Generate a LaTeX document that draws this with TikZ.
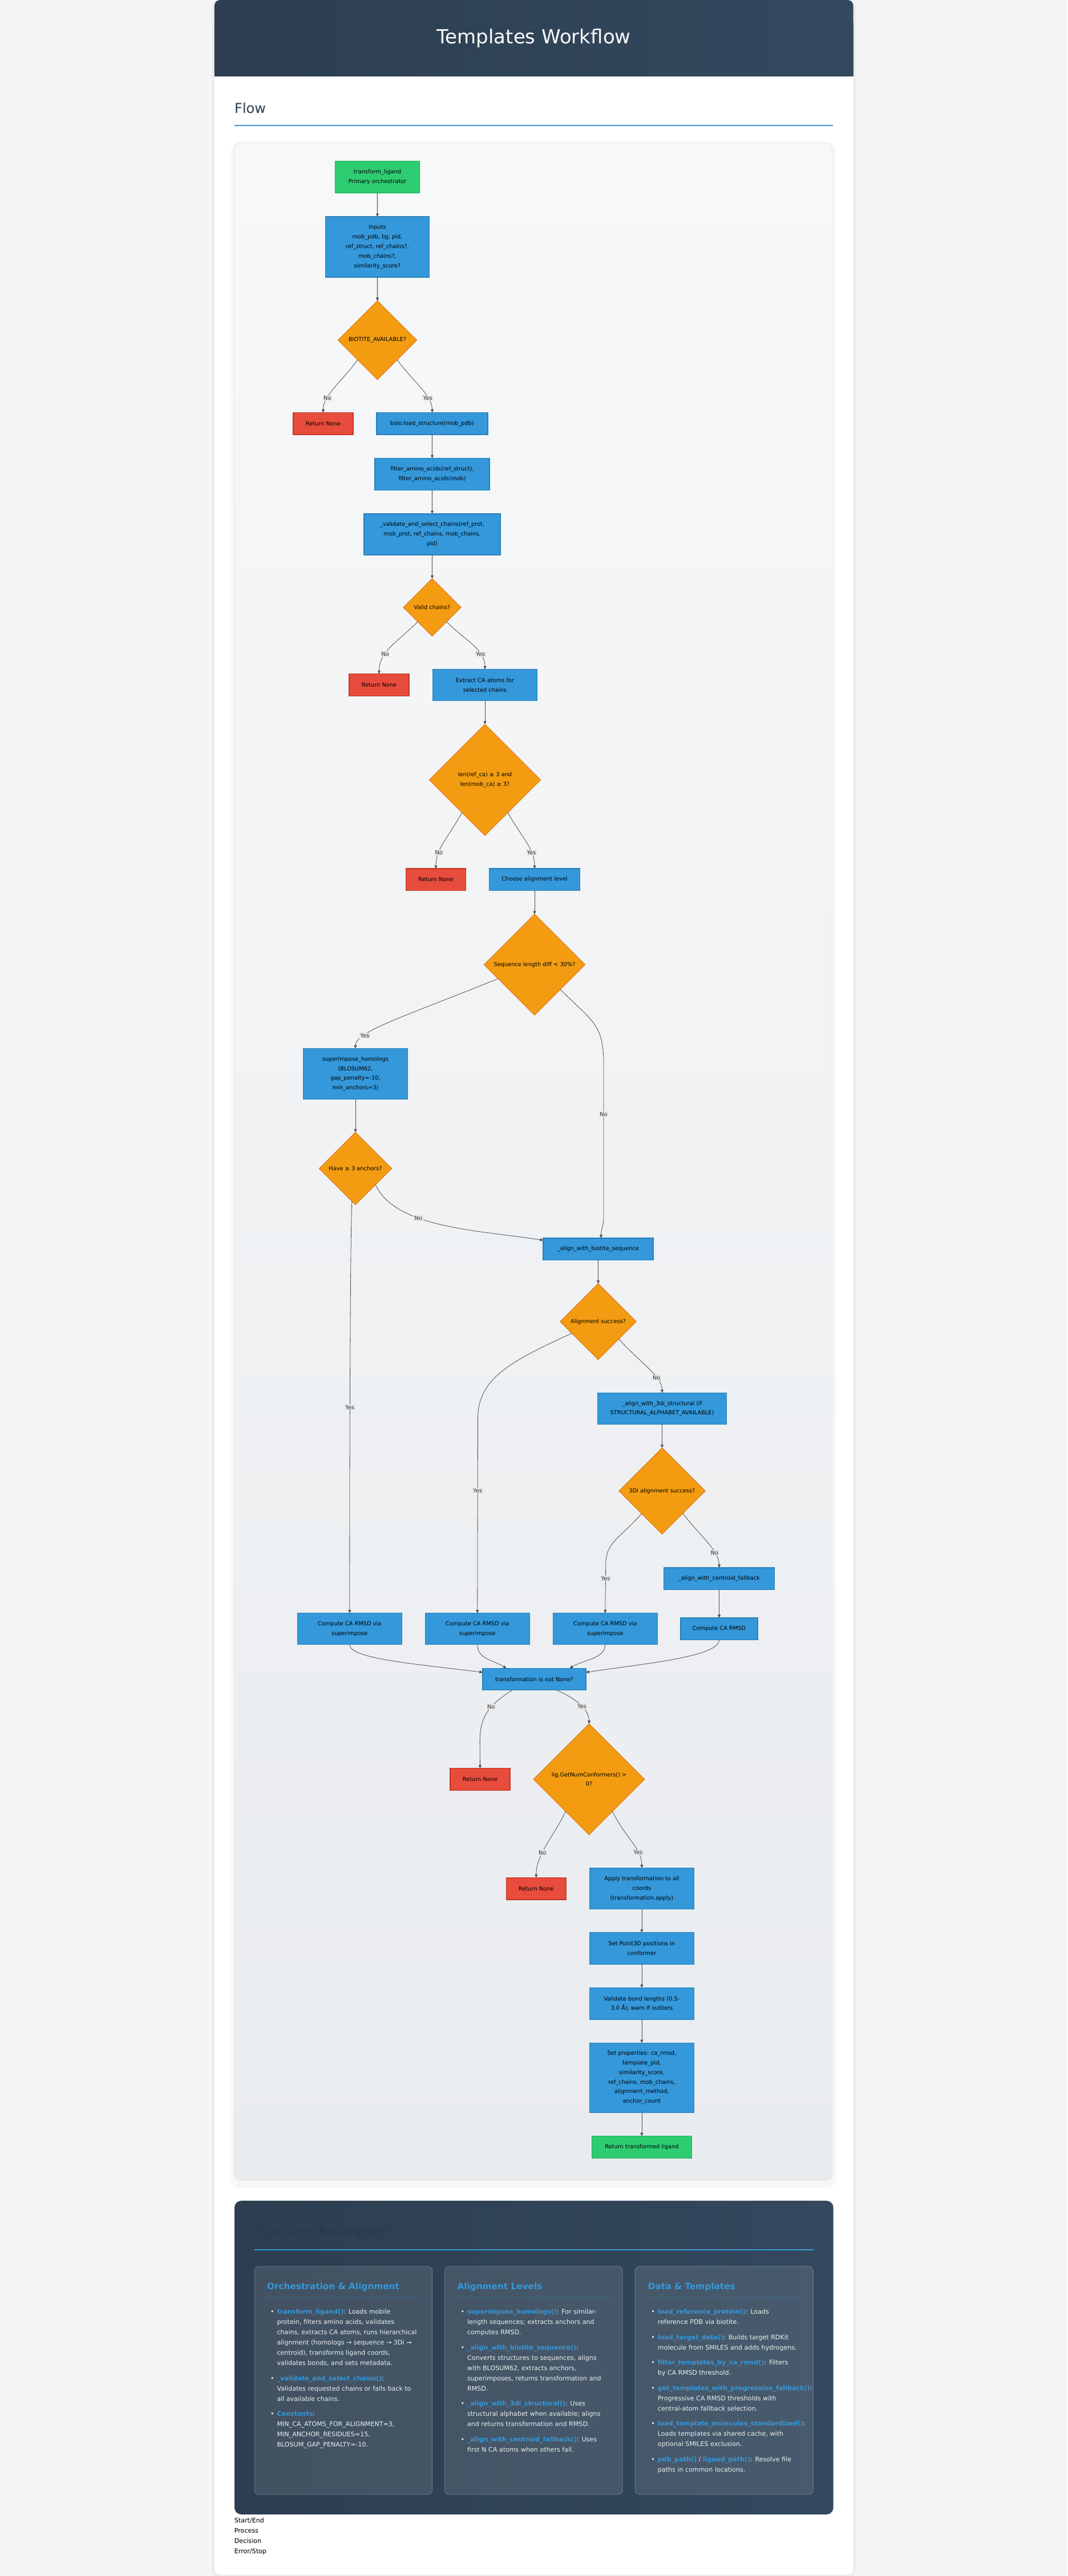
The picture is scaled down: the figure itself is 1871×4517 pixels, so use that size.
\documentclass[tikz,border=0pt]{standalone}
\usepackage{fontspec}
\setmainfont{DejaVu Sans}
\usepackage{tikz}
\usetikzlibrary{shapes.geometric,arrows.meta,positioning}
\tikzset{>/.tip={Triangle[length=5.5pt,width=5pt]}}
\definecolor{pagebg}{HTML}{F3F4F5}
\definecolor{hdrA}{HTML}{2C3E50}
\definecolor{hdrB}{HTML}{34495E}
\definecolor{accent}{HTML}{3498DB}
\definecolor{panelA}{HTML}{F7F8F9}
\definecolor{panelB}{HTML}{E9ECEF}
\definecolor{panelline}{HTML}{DFE3E8}
\definecolor{termfill}{HTML}{2ECC71}
\definecolor{termline}{HTML}{27AE60}
\definecolor{procfill}{HTML}{3498DB}
\definecolor{procline}{HTML}{2980B9}
\definecolor{decfill}{HTML}{F39C12}
\definecolor{decline}{HTML}{E67E22}
\definecolor{errfill}{HTML}{E74C3C}
\definecolor{errline}{HTML}{C0392B}
\definecolor{edgecol}{HTML}{4D4D4D}
\definecolor{lblfill}{HTML}{E8E8E8}
\definecolor{lbltext}{HTML}{333333}
\definecolor{cardtext}{HTML}{ECF0F1}
\definecolor{fadehead}{HTML}{29394A}
\newcommand{\nodefont}{\fontsize{9.8}{16.8}\selectfont}
\newcommand{\cardfont}{\fontsize{11.1}{18}\selectfont}
\newcommand{\headfont}{\fontsize{24}{28}\selectfont}
\newcommand{\cardheadfont}{\fontsize{15.3}{18}\selectfont\bfseries}
\newcommand{\fname}[1]{\textbf{\textcolor{accent}{#1}}}
\tikzset{
  txt/.style={inner sep=0pt},
  flowbox/.style={rectangle, align=center, font=\nodefont, text=black, inner sep=2pt, outer sep=0pt, line width=1.3pt},
  startend/.style={flowbox, fill=termfill, draw=termline},
  proc/.style={flowbox, fill=procfill, draw=procline},
  errbox/.style={flowbox, fill=errfill, draw=errline, minimum width=105pt, minimum height=38.5pt},
  decide/.style={flowbox, diamond, fill=decfill, draw=decline, inner sep=0pt},
  lbl/.style={font=\nodefont, text=lbltext, fill=lblfill, inner xsep=1.5pt, inner ysep=1.5pt},
  flow/.style={->, draw=edgecol, line width=0.8pt},
  cardbox/.style={fill=white, fill opacity=0.1, draw=white, draw opacity=0.22, line width=1pt, rounded corners=8pt},
  cardhead/.style={txt, anchor=base west, font=\cardheadfont, text=accent},
  cardlist/.style={txt, anchor=north west, font=\cardfont, text=cardtext},
}
\begin{document}
\begin{tikzpicture}[x=1pt,y=-1pt,node distance=41.5pt]
  \useasboundingbox (0,0) rectangle (1871,4517);
  % page and card
  \fill[pagebg] (0,0) rectangle (1871,4517);
  \fill[black, opacity=0.04, rounded corners=12pt] (372,0) rectangle (1499.5,4517);
  \fill[white, rounded corners=10pt] (375.8,0) rectangle (1495.7,4515);
  \path[left color=hdrA, right color=hdrB, rounded corners=10pt] (375.8,0) rectangle (1495.7,134);
  \path[left color=hdrA, right color=hdrB] (375.8,40) rectangle (1495.7,134);
  \node (title) [txt, anchor=base, font=\fontsize{34}{40}\selectfont, text=white] at (935.7,76.2) {Templates Workflow};
  \node (flowhead) [txt, anchor=base west, font=\headfont, text=hdrA] at (411,198.8) {Flow};
  \draw[accent, line width=2pt] (411,220) -- (1460,220);
  % flow panel
  \fill[black, opacity=0.03, rounded corners=14pt] (405,252) rectangle (1465,3836);
  \path[draw=panelline, line width=0.8pt, top color=panelA, bottom color=panelB, rounded corners=10pt] (411,250) rectangle (1459,3823);

  % nodes
  \node (start) [startend, minimum width=148pt, minimum height=56pt] at (661.5,310.5) {transform\_ligand\\Primary orchestrator};
  \node (inputs) [proc, below=of start, minimum width=182pt, minimum height=106pt] {Inputs\\mob\_pdb, lig, pid,\\ref\_struct, ref\_chains?,\\mob\_chains?,\\similarity\_score?};
  \node (biotite) [decide, below=of inputs, minimum size=138pt] {BIOTITE\_AVAILABLE?};
  \node (ret1) [errbox, below=58pt of biotite, xshift=-95pt] {Return None};
  \node (bsio) [proc, below=58pt of biotite, xshift=96pt, minimum width=195pt, minimum height=38.5pt] {bsio.load\_structure(mob\_pdb)};
  \node (filter) [proc, below=of bsio, minimum width=201pt, minimum height=56pt] {filter\_amino\_acids(ref\_struct),\\filter\_amino\_acids(mob)};
  \node (validate) [proc, below=of filter, minimum width=239pt, minimum height=72pt] {\_validate\_and\_select\_chains(ref\_prot,\\mob\_prot, ref\_chains, mob\_chains,\\pid)};
  \node (valid) [decide, below=of validate, minimum size=101pt] {Valid chains?};
  \node (extract) [proc, below=58pt of valid, xshift=92.5pt, minimum width=183pt, minimum height=55pt] {Extract CA atoms for\\selected chains};
  \node (ret2) [errbox, left=41.5pt of extract] {Return None};
  \node (lenca) [decide, below=of extract, minimum size=195pt] {len(ref\_ca) ≥ 3 and\\len(mob\_ca) ≥ 3?};
  \node (choose) [proc, below=58pt of lenca, xshift=87pt, minimum width=159pt, minimum height=38.5pt] {Choose alignment level};
  \node (ret3) [errbox, left=41pt of choose] {Return None};
  \node (seqlen) [decide, below=of choose, minimum size=177pt] {Sequence length diff < 30\%?};
  \node (homologs) [proc, below=58.5pt of seqlen, xshift=-314pt, minimum width=182.5pt, minimum height=89pt] {superimpose\_homologs\\(BLOSUM62,\\gap\_penalty=-10,\\min\_anchors=3)};
  \node (anchors) [decide, below=58pt of homologs, minimum size=127pt] {Have ≥ 3 anchors?};
  \node (bioseq) [proc, below=58.4pt of anchors, xshift=425.5pt, minimum width=193pt, minimum height=38.5pt] {\_align\_with\_biotite\_sequence};
  \node (alignok) [decide, below=of bioseq, minimum size=133pt] {Alignment success?};
  \node (tridi) [proc, below=58.5pt of alignok, xshift=112pt, minimum width=225.6pt, minimum height=55pt] {\_align\_with\_3di\_structural (if\\STRUCTURAL\_ALPHABET\_AVAILABLE)};
  \node (tridiok) [decide, below=of tridi, minimum size=151pt] {3Di alignment success?};
  \node (centroid) [proc, below=59pt of tridiok, xshift=100pt, minimum width=194.6pt, minimum height=38.5pt] {\_align\_with\_centroid\_fallback};
  \node (rmsd4) [proc, below=49.5pt of centroid, minimum width=135pt, minimum height=38.5pt] {Compute CA RMSD};
  \node (rmsd3) [proc, left=40.7pt of rmsd4, minimum width=183pt, minimum height=55pt] {Compute CA RMSD via\\superimpose};
  \node (rmsd2) [proc, left=41pt of rmsd3, minimum width=183pt, minimum height=55pt] {Compute CA RMSD via\\superimpose};
  \node (rmsd1) [proc, left=41pt of rmsd2, minimum width=183pt, minimum height=55pt] {Compute CA RMSD via\\superimpose};
  \node (transok) [proc, below=41.5pt of rmsd2, xshift=99.7pt, minimum width=181pt, minimum height=38.5pt] {transformation is not None?};
  \node (confok) [decide, below=59pt of transok, xshift=96pt, minimum size=194.5pt] {lig.GetNumConformers() >\\0?};
  \node (ret4) [errbox, left=41.3pt of confok] {Return None};
  \node (apply) [proc, below=58.3pt of confok, xshift=92.4pt, minimum width=182.6pt, minimum height=72.3pt] {Apply transformation to all\\coords\\(transformation.apply)};
  \node (ret5) [errbox, left=41.3pt of apply] {Return None};
  \node (setpos) [proc, below=41pt of apply, minimum width=183pt, minimum height=55.7pt] {Set Point3D positions in\\conformer};
  \node (bonds) [proc, below=41pt of setpos, minimum width=183pt, minimum height=55.7pt] {Validate bond lengths (0.5-\\3.0 Å), warn if outliers};
  \node (props) [proc, below=41pt of bonds, minimum width=183pt, minimum height=122pt] {Set properties: ca\_rmsd,\\template\_pid,\\similarity\_score,\\ref\_chains, mob\_chains,\\alignment\_method,\\anchor\_count};
  \node (finish) [startend, below=41.3pt of props, minimum width=175pt, minimum height=39pt] {Return transformed ligand};

  % connectors
  \draw[flow] (start) -- (inputs);
  \draw[flow] (inputs) -- (biotite);
  \draw[flow] (biotite.south west) .. controls +(-30,40) and +(0,-30) .. node[lbl,pos=0.7]{No} (ret1.north);
  \draw[flow] (biotite.south east) .. controls +(30,40) and +(0,-30) .. node[lbl,pos=0.7]{Yes} (bsio.north);
  \draw[flow] (bsio) -- (filter);
  \draw[flow] (filter) -- (validate);
  \draw[flow] (validate) -- (valid);
  \draw[flow] (valid.south west) .. controls +(-35,35) and +(0,-40) .. node[lbl,pos=0.65]{No} (ret2.north);
  \draw[flow] (valid.south east) .. controls +(35,35) and +(0,-35) .. node[lbl,pos=0.7]{Yes} (extract.north);
  \draw[flow] (extract) -- (lenca);
  \draw[flow] (lenca.235) .. controls +(-25,45) and +(0,-35) .. node[lbl,pos=0.7]{No} (ret3.north);
  \draw[flow] (lenca.305) .. controls +(25,45) and +(0,-35) .. node[lbl,pos=0.7]{Yes} (choose.north);
  \draw[flow] (choose) -- (seqlen);
  \draw[flow] (seqlen.201) .. controls +(-160,65) and +(0,-30) .. node[lbl,pos=0.75]{Yes} (homologs.north);
  \draw[flow] (seqlen.316) .. controls +(55,55) and +(0,-70) .. ++(76,130) -- node[lbl,pos=0.33]{No} ++(0,270) .. controls +(0,15) and +(0,-15) .. ([xshift=5pt]bioseq.north);
  \draw[flow] (homologs) -- (anchors);
  \draw[flow] (anchors.321) .. controls +(35,75) and +(-120,-18) .. node[lbl,pos=0.37]{No} ([yshift=15.5pt]bioseq.west);
  \draw[flow] (anchors.264) .. controls +(-4,60) and +(0,-60) .. node[lbl,pos=0.5]{Yes} (rmsd1.north);
  \draw[flow] (bioseq) -- (alignok);
  \draw[flow] (alignok.204) .. controls +(-110,50) and +(0,-70) .. ++(-165,150) -- node[lbl,pos=0.37]{Yes} (rmsd2.north);
  \draw[flow] (alignok.320) .. controls +(35,40) and +(0,-30) .. node[lbl,pos=0.7]{No} (tridi.north);
  \draw[flow] (tridi) -- (tridiok);
  \draw[flow] (tridiok.228) .. controls +(-40,45) and +(0,-40) .. ++(-63,90) -- node[lbl,pos=0.28]{Yes} (rmsd3.north);
  \draw[flow] (tridiok.313) .. controls +(30,40) and +(0,-30) .. node[lbl,pos=0.7]{No} (centroid.north);
  \draw[flow] (centroid) -- (rmsd4);
  \draw[flow] (rmsd1.south) .. controls +(0,25) and +(-120,-15) .. ([yshift=12pt]transok.west);
  \draw[flow] (rmsd2.south) .. controls +(0,25) and +(-25,-15) .. ([xshift=-49pt]transok.north);
  \draw[flow] (rmsd3.south) .. controls +(0,25) and +(25,-15) .. ([xshift=62pt]transok.north);
  \draw[flow] (rmsd4.south) .. controls +(0,30) and +(100,-15) .. ([yshift=12pt]transok.east);
  \draw[flow] ([xshift=-38.4pt]transok.south) .. controls +(-40,25) and +(0,-45) .. node[lbl,pos=0.4]{No} ++(-57,90) -- (ret4.north);
  \draw[flow] ([xshift=39pt]transok.south) .. controls +(35,15) and +(0,-25) .. node[lbl,pos=0.55]{Yes} (confok.north);
  \draw[flow] (confok.234) .. controls +(-25,50) and +(0,-40) .. node[lbl,pos=0.6]{No} (ret5.north);
  \draw[flow] (confok.306) .. controls +(25,50) and +(0,-35) .. node[lbl,pos=0.7]{Yes} (apply.north);
  \draw[flow] (apply) -- (setpos);
  \draw[flow] (setpos) -- (bonds);
  \draw[flow] (bonds) -- (props);
  \draw[flow] (props) -- (finish);

  % function reference
  \path[left color=hdrA, right color=hdrB, rounded corners=12pt] (411,3859) rectangle (1460.7,4409);
  \node (refhead) [txt, anchor=base west, font=\headfont, text=fadehead] at (449,3921.8) {Function Reference};
  \draw[accent, line width=2pt] (446,3945) -- (1425.7,3945);
  \path[cardbox] (446,3974) rectangle (757.6,4374);
  \path[cardbox] (779.5,3974) rectangle (1091,4374);
  \path[cardbox] (1113.3,3974) rectangle (1425.3,4374);
  \node (orchhead) [cardhead] at (467.9,4014.8) {Orchestration \& Alignment};
  \node (levelhead) [cardhead] at (801.3,4014.8) {Alignment Levels};
  \node (datahead) [cardhead] at (1135.7,4014.8) {Data \& Templates};
  \draw[accent, opacity=0.35, line width=1pt] (467.9,4028.3) -- (735.7,4028.3);
  \draw[accent, opacity=0.35, line width=1pt] (801.3,4028.3) -- (1069.2,4028.3);
  \draw[accent, opacity=0.35, line width=1pt] (1135.7,4028.3) -- (1403.3,4028.3);
  \node (orchlist) [cardlist] at (473.8,4044.7) {%
    \begin{tabular}{@{}l@{\hspace{5pt}}l@{}}
    \textbullet & \fname{transform\_ligand()}: Loads mobile\\
    & protein, filters amino acids, validates\\
    & chains, extracts CA atoms, runs hierarchical\\
    & alignment (homologs → sequence → 3Di →\\
    & centroid), transforms ligand coords,\\
    & validates bonds, and sets metadata.\\[8.5pt]
    \textbullet & \fname{\_validate\_and\_select\_chains()}:\\
    & Validates requested chains or falls back to\\
    & all available chains.\\[8.5pt]
    \textbullet & \fname{Constants}:\\
    & MIN\_CA\_ATOMS\_FOR\_ALIGNMENT=3,\\
    & MIN\_ANCHOR\_RESIDUES=15,\\
    & BLOSUM\_GAP\_PENALTY=-10.
    \end{tabular}};
  \node (levellist) [cardlist] at (807.3,4044.7) {%
    \begin{tabular}{@{}l@{\hspace{5pt}}l@{}}
    \textbullet & \fname{superimpose\_homologs()}: For similar-\\
    & length sequences; extracts anchors and\\
    & computes RMSD.\\[8.5pt]
    \textbullet & \fname{\_align\_with\_biotite\_sequence()}:\\
    & Converts structures to sequences, aligns\\
    & with BLOSUM62, extracts anchors,\\
    & superimposes, returns transformation and\\
    & RMSD.\\[8.5pt]
    \textbullet & \fname{\_align\_with\_3di\_structural()}: Uses\\
    & structural alphabet when available; aligns\\
    & and returns transformation and RMSD.\\[8.5pt]
    \textbullet & \fname{\_align\_with\_centroid\_fallback()}: Uses\\
    & first N CA atoms when others fail.
    \end{tabular}};
  \node (datalist) [cardlist] at (1141.2,4044.7) {%
    \begin{tabular}{@{}l@{\hspace{5pt}}l@{}}
    \textbullet & \fname{load\_reference\_protein()}: Loads\\
    & reference PDB via biotite.\\[8.5pt]
    \textbullet & \fname{load\_target\_data()}: Builds target RDKit\\
    & molecule from SMILES and adds hydrogens.\\[8.5pt]
    \textbullet & \fname{filter\_templates\_by\_ca\_rmsd()}: Filters\\
    & by CA RMSD threshold.\\[8.5pt]
    \textbullet & \fname{get\_templates\_with\_progressive\_fallback()}:\\
    & Progressive CA RMSD thresholds with\\
    & central-atom fallback selection.\\[8.5pt]
    \textbullet & \fname{load\_template\_molecules\_standardized()}:\\
    & Loads templates via shared cache, with\\
    & optional SMILES exclusion.\\[8.5pt]
    \textbullet & \fname{pdb\_path()} / \fname{ligand\_path()}: Resolve file\\
    & paths in common locations.
    \end{tabular}};

  % legend
  \node (legstart) [txt, anchor=base west, font=\cardfont] at (410.7,4423.3) {Start/End};
  \node (legproc) [txt, anchor=base west, font=\cardfont] at (410.7,4441.3) {Process};
  \node (legdec) [txt, anchor=base west, font=\cardfont] at (410.7,4459.3) {Decision};
  \node (legerr) [txt, anchor=base west, font=\cardfont] at (410.7,4477.3) {Error/Stop};
\end{tikzpicture}
\end{document}
